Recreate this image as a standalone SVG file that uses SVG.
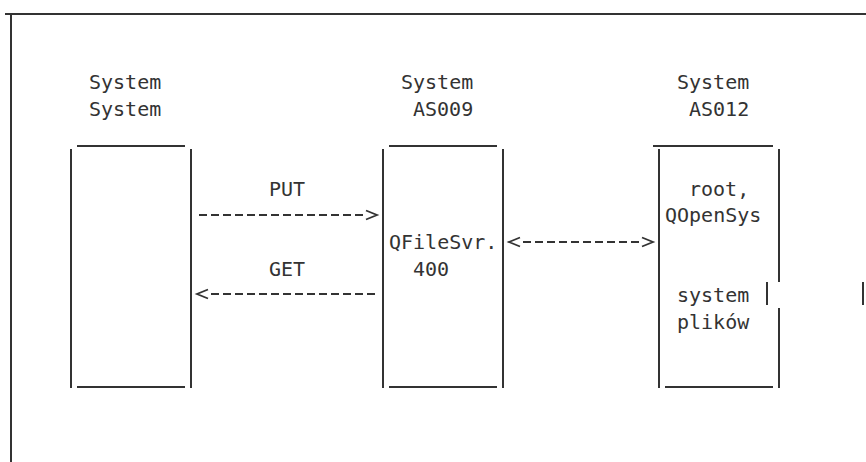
<svg xmlns="http://www.w3.org/2000/svg" width="866" height="462" viewBox="0 0 866 462">
<style>
.t{font-family:"DejaVu Sans Mono","Liberation Mono",monospace;font-size:20px;fill:#333}
.ln{stroke:#333;stroke-width:2;fill:none}
.cn{stroke:#333;stroke-width:2;fill:none;stroke-dasharray:8 4}
</style>
<defs>
<marker id="chev" markerUnits="userSpaceOnUse" markerWidth="20" markerHeight="14" refX="0" refY="7" orient="auto-start-reverse" viewBox="0 0 20 14">
<path d="M3,2.5 L14,7 L3,11.5" fill="none" stroke="#333" stroke-width="1.8"/>
</marker>
</defs>
<rect width="866" height="462" fill="#fff"/>
<g id="frame">
<line class="ln" x1="5" y1="14" x2="866" y2="14"/>
<line class="ln" x1="11" y1="15" x2="11" y2="462"/>
</g>
<g id="system-local">
<text class="t" x="89" y="89">System</text>
<text class="t" x="89" y="115.7">System</text>
<path class="ln" d="M77,146H185M71,149V388M191,149V388M77,387H185"/>
</g>
<g id="system-as009">
<text class="t" x="401" y="89">System</text>
<text class="t" x="413" y="115.7">AS009</text>
<path class="ln" d="M389,146H497M383,149V388M503,149V388M389,387H497"/>
<text class="t" x="389" y="249">QFileSvr.</text>
<text class="t" x="413" y="275.7">400</text>
</g>
<g id="system-as012">
<text class="t" x="677" y="89">System</text>
<text class="t" x="689" y="115.7">AS012</text>
<path class="ln" d="M653,146H773M659,149V388M779,149V282M779,308V388M665,387H773M767,282V305M863,282V305"/>
<text class="t" x="689" y="195.7">root,</text>
<text class="t" x="665" y="222.3">QOpenSys</text>
<text class="t" x="677" y="302.3">system</text>
<text class="t" x="677" y="329">plików</text>
</g>
<g id="connectors">
<line class="cn" x1="199" y1="215" x2="363" y2="215" marker-end="url(#chev)"/>
<text class="t" x="269" y="195.7">PUT</text>
<line class="cn" x1="375" y1="294" x2="211" y2="294" marker-end="url(#chev)"/>
<text class="t" x="269" y="275.7">GET</text>
<line class="cn" x1="523" y1="242" x2="639" y2="242" marker-start="url(#chev)" marker-end="url(#chev)"/>
</g>
</svg>
